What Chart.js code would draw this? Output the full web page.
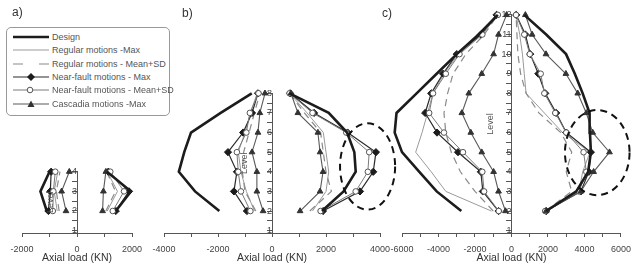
<!DOCTYPE html>
<html>
<head>
<meta charset="utf-8">
<script src="https://cdn.jsdelivr.net/npm/chart.js@4.4.0/dist/chart.umd.min.js"></script>
<style>
  body { margin: 0; background: #fff; }
  #wrap { position: relative; width: 639px; height: 266px; overflow: hidden; font-family: "Liberation Sans", Arial, sans-serif; }
  #wrap canvas { position: absolute; left: 0; top: 0; }
  .tag { position: absolute; font-size: 12px; line-height: 12px; color: #333; }
  #legend { position: absolute; left: 6px; top: 27px; width: 164px; height: 89px; box-sizing: border-box;
            border: 1px solid #999; border-radius: 5px; background: #fff; }
  #legend .row { position: absolute; left: 5px; height: 10px; white-space: nowrap; }
  #legend svg { position: absolute; left: 0; top: 0; }
  #legend span { position: absolute; left: 40px; top: 0; font-size: 9px; line-height: 10px; color: #555; }
</style>
</head>
<body>
<div id="wrap">
  <canvas id="chartA" width="639" height="266"></canvas>
  <canvas id="chartB" width="639" height="266"></canvas>
  <canvas id="chartC" width="639" height="266"></canvas>
  <div class="tag" style="left:12px;top:6px">a)</div>
  <div class="tag" style="left:182px;top:7px">b)</div>
  <div class="tag" style="left:382px;top:7px">c)</div>
  <div id="legend"></div>
</div>
<script>
// Series names (legend order)
const seriesNames = [
  "Design",
  "Regular motions -Max",
  "Regular motions - Mean+SD",
  "Near-fault motions - Max",
  "Near-fault motions - Mean+SD",
  "Cascadia motions -Max"
];

// Values listed from level 2 upward. Neg = left branch, Pos = right branch (KN)
// a) 4 levels
const levelsA = [2, 3, 4];
const designNegA = [-1100, -1330, -1000];
const designPosA = [1410, 1960, 1090];
const regMaxNegA = [-720, -830, -700];
const regMaxPosA = [1100, 1470, 1100];
const regSdNegA = [-650, -750, -620];
const regSdPosA = [1050, 1400, 1080];
const nfMaxNegA = [-1040, -970, -940];
const nfMaxPosA = [1410, 1890, 1140];
const nfSdNegA = [-880, -860, -790];
const nfSdPosA = [1300, 1710, 1210];
const casNegA = [-400, -560, -280];
const casPosA = [930, 960, 1050];

// b) 8 levels
const levelsB = [2, 3, 4, 5, 6, 7, 8];
const designNegB = [-1950, -2850, -3450, -3250, -3000, -1900, -750];
const designPosB = [1850, 2650, 3100, 3050, 2780, 2100, 650];
const regMaxNegB = [-650, -950, -1150, -1250, -1000, -800, -550];
const regMaxPosB = [1500, 2000, 2100, 2000, 1900, 1300, 650];
const regSdNegB = [-600, -1000, -1100, -1050, -850, -650, -450];
const regSdPosB = [1400, 2200, 2000, 1900, 1800, 1200, 650];
const nfMaxNegB = [-930, -1410, -1300, -1630, -1070, -740, -520];
const nfMaxPosB = [1890, 3260, 3750, 3850, 2800, 1560, 670];
const nfSdNegB = [-800, -1150, -1250, -1300, -950, -820, -500];
const nfSdPosB = [1800, 3100, 3550, 3600, 2750, 1500, 650];
const casNegB = [-330, -560, -560, -740, -520, -450, -260];
const casPosB = [1040, 1780, 1890, 1780, 1700, 960, 700];

// c) 12 levels
const levelsC = [2, 3, 4, 5, 6, 7, 8, 9, 10, 11, 12];
const designNegC = [-2750, -4100, -5050, -6000, -6400, -6300, -5200, -4100, -3000, -1800, -750];
const designPosC = [1900, 3550, 4200, 4350, 4300, 4280, 3900, 3470, 2990, 1900, 700];
const regMaxNegC = [-1100, -3600, -4400, -5250, -4900, -4600, -4300, -3700, -2900, -1650, -780];
const regMaxPosC = [1950, 3700, 3900, 4300, 2800, 1800, 800, 700, 600, 450, 250];
const regSdNegC = [-1000, -2000, -2800, -3300, -3600, -3700, -3500, -3200, -2500, -1500, -750];
const regSdPosC = [1850, 3300, 3000, 3300, 2700, 1500, 800, 500, 350, 300, 250];
const nfMaxNegC = [-710, -1570, -1680, -2930, -4080, -4730, -4400, -3750, -3000, -1680, -820];
const nfMaxPosC = [1900, 3800, 4240, 4350, 3000, 2450, 1850, 1470, 1030, 760, 260];
const nfSdNegC = [-700, -1500, -1600, -2660, -3700, -4510, -4300, -3600, -2850, -1600, -750];
const nfSdPosC = [1850, 3700, 4100, 3950, 3000, 2400, 1800, 1600, 1000, 700, 250];
const casNegC = [-330, -710, -980, -1630, -2230, -2720, -2340, -1630, -980, -710, -270];
const casPosC = [1900, 3800, 4500, 5370, 4450, 4100, 3630, 2980, 1890, 1130, 760];

// line styles, same order as seriesNames
const styles = [
  { color: "#1c1c1c", width: 2.6, dash: [], point: false },
  { color: "#9a9a9a", width: 1, dash: [], point: false },
  { color: "#8a8a8a", width: 1.2, dash: [7, 5], point: false },
  { color: "#2a2a2a", width: 1.2, dash: [], point: "rectRot", fill: "#1c1c1c", r: 3.6 },
  { color: "#7a7a7a", width: 1, dash: [], point: "circle", fill: "#ffffff", r: 2.8 },
  { color: "#5a5a5a", width: 1.1, dash: [], point: "triangle", fill: "#333333", r: 3.3 }
];

Chart.defaults.font.family = '"Liberation Sans", Arial, sans-serif';

// dashed ring + rotated "Level" title
const extras = {
  id: "extras",
  afterDatasetsDraw(chart, args, opts) {
    const { ctx, chartArea, scales: { x, y } } = chart;
    ctx.save();
    ctx.font = '9px "Liberation Sans", Arial, sans-serif';
    ctx.fillStyle = "#555";
    ctx.textAlign = "center";
    ctx.textBaseline = "middle";
    ctx.translate(x.getPixelForValue(0) - opts.titleGap, (chartArea.top + chartArea.bottom) / 2);
    ctx.rotate(-Math.PI / 2);
    ctx.fillText("Level", 0, 0);
    ctx.restore();

    if (opts.ring) {
      const r = opts.ring;
      const cx = x.getPixelForValue(r.x);
      const cy = y.getPixelForValue(r.y);
      const rx = Math.abs(x.getPixelForValue(r.x + r.rx) - cx);
      const ry = Math.abs(y.getPixelForValue(r.y + r.ry) - cy);
      ctx.save();
      ctx.strokeStyle = "#111";
      ctx.lineWidth = 2;
      ctx.setLineDash([7, 5]);
      ctx.beginPath();
      ctx.ellipse(cx, cy, rx, ry, 0, 0, Math.PI * 2);
      ctx.stroke();
      ctx.restore();
    }
  }
};

function toPoints(levels, vals) {
  return levels.map((l, i) => ({ x: vals[i], y: l }));
}

function makeChart(id, levels, pairs, xMax, yMax, pad, extraOpts) {
  const datasets = [];
  pairs.forEach((pair, s) => {
    const st = styles[s];
    pair.forEach(vals => {
      datasets.push({
        label: seriesNames[s],
        data: toPoints(levels, vals),
        showLine: true,
        borderColor: st.color,
        borderWidth: st.width,
        borderDash: st.dash,
        pointStyle: st.point || "circle",
        pointRadius: st.point ? st.r : 0,
        pointBackgroundColor: st.fill || st.color,
        pointBorderColor: st.point === "circle" ? "#555" : (st.fill || st.color),
        pointBorderWidth: 1,
        clip: false,
        order: s === 0 ? 0 : 10 - s
      });
    });
  });

  return new Chart(document.getElementById(id), {
    type: "scatter",
    data: { datasets },
    plugins: [extras],
    options: {
      responsive: false,
      animation: false,
      events: [],
      layout: { padding: pad },
      plugins: {
        legend: { display: false },
        tooltip: { enabled: false },
        extras: extraOpts
      },
      scales: {
        x: {
          type: "linear",
          position: "bottom",
          min: -xMax,
          max: xMax,
          border: { color: "#555", width: 1 },
          grid: { drawOnChartArea: false, tickLength: 4, color: "#555" },
          ticks: {
            stepSize: 1000, autoSkip: false, maxRotation: 0, padding: 8,
            color: "#444", font: { size: 9, lineHeight: 1 },
            callback: v => (v % 2000 === 0 ? String(v) : "")
          },
          title: {
            display: true, text: "Axial load (KN)", color: "#333",
            font: { size: 10.5, lineHeight: 1 }, padding: { top: -8.75, bottom: 0 }
          }
        },
        y: {
          type: "linear",
          position: { x: 0 },
          min: 0.88,
          max: yMax,
          border: { color: "#555", width: 1 },
          grid: { drawOnChartArea: false, tickLength: 5, color: "#555" },
          ticks: {
            stepSize: 0.5, includeBounds: false, autoSkip: false, padding: 4,
            color: "#444", font: { size: 9, lineHeight: 1 },
            callback: v => (Number.isInteger(v) ? String(v) : "")
          }
        }
      }
    }
  });
}

makeChart("chartA", levelsA,
  [[designNegA, designPosA], [regMaxNegA, regMaxPosA], [regSdNegA, regSdPosA],
   [nfMaxNegA, nfMaxPosA], [nfSdNegA, nfSdPosA], [casNegA, casPosA]],
  2000, 4, { left: 22, right: 507, top: 171.7, bottom: 2.25 }, { titleGap: 26 });

makeChart("chartB", levelsB,
  [[designNegB, designPosB], [regMaxNegB, regMaxPosB], [regSdNegB, regSdPosB],
   [nfMaxNegB, nfMaxPosB], [nfSdNegB, nfSdPosB], [casNegB, casPosB]],
  4000, 8, { left: 164, right: 259, top: 93.3, bottom: 2.25 },
  { titleGap: 27, ring: { x: 3540, y: 4.27, rx: 1020, ry: 2.2 } });

makeChart("chartC", levelsC,
  [[designNegC, designPosC], [regMaxNegC, regMaxPosC], [regSdNegC, regSdPosC],
   [nfMaxNegC, nfMaxPosC], [nfSdNegC, nfSdPosC], [casNegC, casPosC]],
  6000, 12, { left: 402, right: 16, top: 14.9, bottom: 2.25 },
  { titleGap: 21, ring: { x: 4700, y: 4.98, rx: 1770, ry: 2.17 } });

// Legend box
const legendBox = document.getElementById("legend");
function sampleSvg(st) {
  let s = `<line x1="1" y1="5" x2="37" y2="5" stroke="${st.color}" stroke-width="${st.width}"` +
          (st.dash.length ? ` stroke-dasharray="10 16"` : "") + `/>`;
  if (st.point === "rectRot") s += `<polygon points="19,1 23,5 19,9 15,5" fill="${st.fill}"/>`;
  if (st.point === "circle") s += `<circle cx="18" cy="5" r="2.8" fill="#fff" stroke="#555" stroke-width="1"/>`;
  if (st.point === "triangle") s += `<polygon points="19,1.5 22.5,8 15.5,8" fill="${st.fill}"/>`;
  return s;
}
seriesNames.forEach((name, i) => {
  const row = document.createElement("div");
  row.className = "row";
  row.style.top = (4 + i * 13.3) + "px";
  row.innerHTML = `<svg width="38" height="10">${sampleSvg(styles[i])}</svg><span>${name}</span>`;
  legendBox.appendChild(row);
});
</script>
</body>
</html>
